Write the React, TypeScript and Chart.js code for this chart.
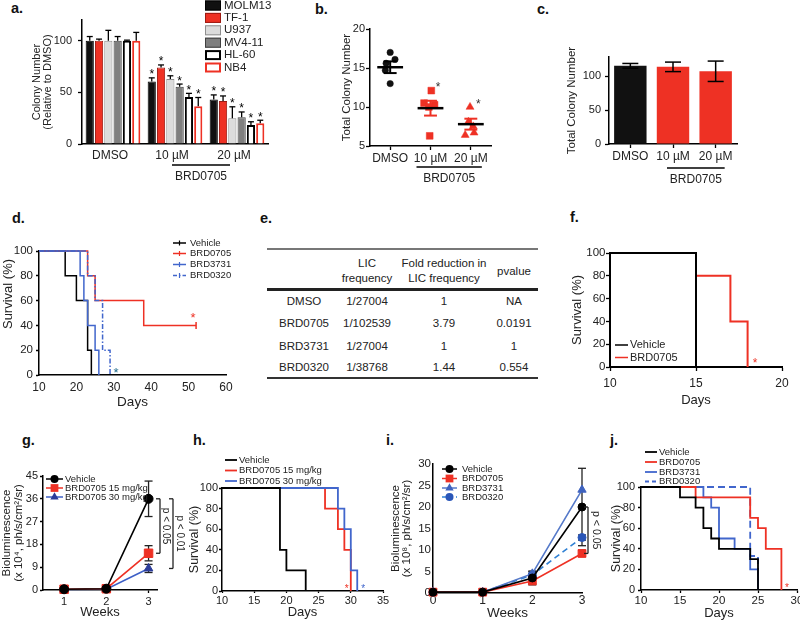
import React, { useEffect, useRef } from 'react';
import { Chart, registerables } from 'chart.js';

Chart.register(...registerables);

const FONT = "'Liberation Sans', Arial, Helvetica, sans-serif";
Chart.defaults.font.family = FONT;
Chart.defaults.color = '#222';

const INK = '#222';
const RED = '#ee3124';
const BLUE = '#4166cc';
const TEAL = '#1f6a8a';

/* ======================= DATA ======================= */
// a. colony formation of six AML lines (relative to DMSO)
const aGroups = ['DMSO', '10 µM', '20 µM'];
const aCellLines = ['MOLM13', 'TF-1', 'U937', 'MV4-11', 'HL-60', 'NB4'];
const aMOLM13 = [100, 60.5, 43];
const aTF1 = [100, 74, 41.5];
const aU937 = [100, 63, 25];
const aMV411 = [100, 55.5, 26];
const aHL60 = [100, 45.5, 18.5];
const aNB4 = [100, 36.5, 20];
const aErrMOLM13 = [4, 3.5, 4.5];
const aErrTF1 = [1.5, 2.5, 5];
const aErrU937 = [10, 3, 11];
const aErrMV411 = [4, 2.5, 5];
const aErrHL60 = [0.5, 3.5, 3];
const aErrNB4 = [8, 8.5, 3];
const aSignificant = [false, true, true];
const aYTicks = [0, 50, 100];
const treatmentName = 'BRD0705';

// b. total colony number, individual points
const bGroups = ['DMSO', '10 µM', '20 µM'];
const bDMSO = [17, 16.1, 15.6, 14.7, 13];
const b10uM = [12.1, 10.5, 10.3, 10.0, 6.3];
const b20uM = [10.0, 8.1, 7.5, 6.7, 6.4];
const bJitterDMSO = [0, 0.12, -0.1, -0.12, 0];
const bJitter10uM = [0.02, -0.16, 0.1, -0.04, -0.02];
const bJitter20uM = [-0.02, -0.06, 0.06, 0.08, -0.14];
const bMeans = [15.1, 9.85, 7.8];
const bSEM = [0.75, 0.95, 0.7];
const bSignificant = [false, true, true];
const bYTicks = [5, 10, 15, 20];

// c. total colony number
const cGroups = ['DMSO', '10 µM', '20 µM'];
const cValues = [115, 113.5, 107];
const cErrors = [3.5, 7, 15];
const cYTicks = [0, 50, 100];

// d. survival
const dSeries = ['Vehicle', 'BRD0705', 'BRD3731', 'BRD0320'];
const dXTicks = [10, 20, 30, 40, 50, 60];
const dYTicks = [0, 20, 40, 60, 80, 100];
const dVehicleDays = [10, 17, 20, 23, 24];
const dVehicleSurv = [100, 80, 60, 20, 0];
const dBRD0705Days = [10, 23, 25, 38, 52];
const dBRD0705Surv = [100, 80, 60, 40, 40];
const dBRD3731Days = [10, 21, 22, 23, 25, 26];
const dBRD3731Surv = [100, 80, 60, 40, 20, 0];
const dBRD0320Days = [10, 23, 25, 27, 29];
const dBRD0320Surv = [100, 80, 60, 20, 0];

// e. LIC frequency table
const eHeader = ['', 'LIC\nfrequency', 'Fold reduction in\nLIC frequency', 'pvalue'];
const eCompounds = ['DMSO', 'BRD0705', 'BRD3731', 'BRD0320'];
const eLICFrequency = ['1/27004', '1/102539', '1/27004', '1/38768'];
const eFoldReduction = ['1', '3.79', '1', '1.44'];
const ePValue = ['NA', '0.0191', '1', '0.554'];

// f. survival
const fSeries = ['Vehicle', 'BRD0705'];
const fXTicks = [10, 15, 20];
const fYTicks = [0, 20, 40, 60, 80, 100];
const fVehicleDays = [10, 15];
const fVehicleSurv = [100, 0];
const fBRD0705Days = [10, 15, 17, 18];
const fBRD0705Surv = [100, 80, 40, 0];

// g. bioluminescence
const gSeries = ['Vehicle', 'BRD0705 15 mg/kg', 'BRD0705 30 mg/kg'];
const gWeeks = [1, 2, 3];
const gYTicks = [0, 9, 18, 27, 36, 45];
const gVehicle = [0.3, 0.5, 36];
const gVehicleErr = [0.2, 0.3, 7];
const gBRD0705Low = [0.3, 0.5, 14.5];
const gBRD0705LowErr = [0.2, 0.3, 3];
const gBRD0705High = [0.2, 0.3, 8.5];
const gBRD0705HighErr = [0.1, 0.2, 1.6];
const gPLabels = ['p < 0.05', 'p < 0.01'];

// h. survival
const hSeries = ['Vehicle', 'BRD0705 15 mg/kg', 'BRD0705 30 mg/kg'];
const hXTicks = [10, 15, 20, 25, 30, 35];
const hYTicks = [0, 20, 40, 60, 80, 100];
const hVehicleDays = [10, 19, 20, 23];
const hVehicleSurv = [100, 40, 20, 0];
const hLowDays = [10, 26, 28, 29, 30];
const hLowSurv = [100, 80, 60, 40, 0];
const hHighDays = [10, 28, 29, 30, 31];
const hHighSurv = [100, 80, 60, 20, 0];

// i. bioluminescence
const iSeries = ['Vehicle', 'BRD0705', 'BRD3731', 'BRD0320'];
const iWeeks = [0, 1, 2, 3];
const iYTicks = [0, 5, 10, 15, 20, 25, 30];
const iVehicle = [0.2, 0.2, 3.5, 20];
const iVehicleErr = [0, 0, 1.6, 9];
const iBRD0705 = [0.2, 0.2, 2.8, 9.2];
const iBRD0705Err = [0, 0, 0.6, 0.7];
const iBRD3731 = [0.2, 0.2, 4.5, 24];
const iBRD3731Err = [0, 0, 0.5, 0];
const iBRD0320 = [0.2, 0.2, 4.2, 12.9];
const iBRD0320Err = [0, 0, 0.4, 0.6];
const iPLabel = 'p < 0.05';

// j. survival
const jSeries = ['Vehicle', 'BRD0705', 'BRD3731', 'BRD0320'];
const jXTicks = [10, 15, 20, 25, 30];
const jYTicks = [0, 20, 40, 60, 80, 100];
const jVehicleDays = [10, 15, 17, 18, 19, 20, 24, 25];
const jVehicleSurv = [100, 90, 80, 60, 50, 40, 30, 0];
const jBRD0705Days = [10, 17, 24, 25, 26, 28];
const jBRD0705Surv = [100, 90, 70, 60, 40, 0];
const jBRD3731Days = [10, 18, 19, 20, 22, 24, 25];
const jBRD3731Surv = [100, 90, 80, 50, 40, 20, 0];
const jBRD0320Days = [10, 24, 25];
const jBRD0320Surv = [100, 33, 0];

/* ======================= LAYOUT / STYLE ======================= */
type Box = { x0: number; y0: number; w: number; h: number; L: number; T: number; R: number; B: number };

const BOX: Record<string, Box> = {
  a: { x0: 0, y0: 0, w: 285, h: 195, L: 82, T: 20, R: 268, B: 144 },
  b: { x0: 290, y0: 15, w: 230, h: 180, L: 370, T: 29, R: 491, B: 146 },
  c: { x0: 555, y0: 40, w: 225, h: 155, L: 609, T: 57, R: 737, B: 144 },
  d: { x0: 0, y0: 230, w: 250, h: 180, L: 39, T: 251, R: 226, B: 375 },
  f: { x0: 560, y0: 235, w: 240, h: 175, L: 610, T: 253, R: 782, B: 367 },
  g: { x0: 0, y0: 455, w: 200, h: 165, L: 43, T: 476, R: 157, B: 590 },
  h: { x0: 185, y0: 450, w: 210, h: 170, L: 222, T: 488, R: 383, B: 591 },
  i: { x0: 385, y0: 450, w: 225, h: 170, L: 433, T: 464, R: 582, B: 593 },
  j: { x0: 600, y0: 440, w: 215, h: 180, L: 641, T: 487, R: 797, B: 590 },
};

const aStyles = [
  { fill: '#111111', stroke: '#000000', lw: 1 },
  { fill: RED, stroke: '#9c1a12', lw: 1 },
  { fill: '#dcdcdc', stroke: '#8f8f8f', lw: 1 },
  { fill: '#7f7f7f', stroke: '#3f3f3f', lw: 1 },
  { fill: '#ffffff', stroke: '#000000', lw: 2 },
  { fill: '#ffffff', stroke: RED, lw: 2 },
];

function fnt(size: number, bold = false) {
  return `${bold ? 'bold ' : ''}${size}px ${FONT}`;
}

function text(ctx: any, s: string, x: number, y: number, size: number, o: any = {}) {
  ctx.save();
  ctx.font = fnt(size, o.bold);
  ctx.fillStyle = o.color || INK;
  ctx.textAlign = o.align || 'left';
  ctx.textBaseline = o.base || 'middle';
  ctx.translate(x, y);
  if (o.rot) ctx.rotate(o.rot);
  ctx.fillText(s, 0, 0);
  ctx.restore();
}

function seg(ctx: any, x1: number, y1: number, x2: number, y2: number, color = '#000', width = 1.5, dash: number[] = []) {
  ctx.save();
  ctx.strokeStyle = color;
  ctx.lineWidth = width;
  ctx.setLineDash(dash);
  ctx.beginPath();
  ctx.moveTo(x1, y1);
  ctx.lineTo(x2, y2);
  ctx.stroke();
  ctx.restore();
}

function star(ctx: any, x: number, y: number, size: number, color = '#000') {
  text(ctx, '*', x, y + 0.58 * size, size, { color, align: 'center', base: 'alphabetic' });
}

function mark(ctx: any, style: string, x: number, y: number, r: number, color: string) {
  ctx.save();
  ctx.fillStyle = color;
  ctx.beginPath();
  if (style === 'rect') {
    const s = r * Math.SQRT1_2;
    ctx.rect(x - s, y - s, 2 * s, 2 * s);
  } else if (style === 'triangle') {
    for (let k = 0; k < 3; k++) {
      const a = (k * 2 * Math.PI) / 3;
      const px = x + Math.sin(a) * r;
      const py = y - Math.cos(a) * r;
      if (k) ctx.lineTo(px, py);
      else ctx.moveTo(px, py);
    }
    ctx.closePath();
  } else {
    ctx.arc(x, y, r, 0, Math.PI * 2);
  }
  ctx.fill();
  ctx.restore();
}

function yAxis(b: Box, o: any) {
  const ts = o.titleSize || 12;
  const lhf = o.titleLH || 1.2;
  return {
    type: 'linear',
    position: 'left',
    min: o.min,
    max: o.max,
    afterBuildTicks: (s: any) => {
      s.ticks = o.ticks.map((v: number) => ({ value: v }));
    },
    afterFit: (s: any) => {
      s.width = b.L - b.x0;
    },
    grid: {
      display: true,
      drawOnChartArea: false,
      drawTicks: (o.tickLen || 0) > 0,
      tickLength: o.tickLen || 0,
      tickWidth: 1.3,
      tickColor: '#000',
    },
    border: { display: true, color: '#000', width: o.lineW || 1.5 },
    ticks: { font: { size: o.size }, color: INK, padding: o.pad ?? 3 },
    title: o.title
      ? {
          display: true,
          text: o.title,
          color: INK,
          font: { size: ts, lineHeight: lhf },
          padding: { top: o.titleAt - b.x0 - (ts * lhf) / 2, bottom: 0 },
        }
      : { display: false },
  };
}

function xLinear(b: Box, o: any) {
  const ts = o.titleSize || 12;
  const ticks: any = { font: { size: o.size }, color: INK, padding: o.pad ?? 3, autoSkip: false, maxRotation: 0 };
  if (o.labels) ticks.callback = (_v: any, i: number) => o.labels[i];
  return {
    type: 'linear',
    position: 'bottom',
    min: o.min,
    max: o.max,
    afterBuildTicks: (s: any) => {
      s.ticks = o.ticks.map((v: number) => ({ value: v }));
    },
    afterFit: (s: any) => {
      s.height = b.y0 + b.h - b.B;
    },
    grid: {
      display: true,
      drawOnChartArea: false,
      drawTicks: (o.tickLen || 0) > 0,
      tickLength: o.tickLen || 0,
      tickWidth: 1.3,
      tickColor: '#000',
    },
    border: { display: true, color: '#000', width: o.lineW || 1.5 },
    ticks,
    title: o.title
      ? {
          display: true,
          text: o.title,
          color: INK,
          font: { size: ts, lineHeight: 1.2 },
          padding: { top: 0, bottom: b.y0 + b.h - o.titleAt - (ts * 1.2) / 2 },
        }
      : { display: false },
  };
}

function xCategory(b: Box, o: any) {
  return {
    type: 'category',
    position: 'bottom',
    offset: true,
    afterFit: (s: any) => {
      s.height = b.y0 + b.h - b.B;
    },
    grid: {
      display: true,
      drawOnChartArea: false,
      offset: false,
      drawTicks: (o.tickLen || 0) > 0,
      tickLength: o.tickLen || 0,
      tickWidth: 1.3,
      tickColor: '#000',
    },
    border: { display: true, color: '#000', width: o.lineW || 1.5 },
    ticks: {
      font: { size: o.size },
      color: INK,
      padding: o.pad ?? 3,
      autoSkip: false,
      maxRotation: 0,
      labelOffset: o.labelOffset || 0,
    },
  };
}

function config(b: Box, type: string, data: any, scales: any, hooks: any = {}) {
  return {
    type,
    data,
    options: {
      responsive: false,
      maintainAspectRatio: false,
      animation: false,
      events: [],
      layout: { padding: { left: 0, top: b.T - b.y0, right: b.x0 + b.w - b.R, bottom: 0 } },
      plugins: { legend: { display: false }, tooltip: { enabled: false } },
      scales,
    },
    plugins: [
      {
        id: 'panelExtras',
        beforeDatasetsDraw(chart: any) {
          if (hooks.pre) {
            chart.ctx.save();
            hooks.pre(chart.ctx, chart);
            chart.ctx.restore();
          }
        },
        afterDraw(chart: any) {
          if (hooks.post) {
            chart.ctx.save();
            hooks.post(chart.ctx, chart);
            chart.ctx.restore();
          }
        },
      },
    ],
  };
}

function survival(days: number[], surv: number[], color: string, width: number, dash: number[] = [], censorLast = false) {
  return {
    data: days.map((d, i) => ({ x: d, y: surv[i] })),
    borderColor: color,
    backgroundColor: color,
    borderWidth: width,
    borderDash: dash,
    stepped: 'before',
    fill: false,
    pointRadius: days.map((_, i) => (censorLast && i === days.length - 1 ? 3.5 : 0)),
    pointStyle: 'line',
    pointRotation: 90,
    pointBorderColor: color,
    pointBorderWidth: width,
    clip: false,
  };
}

function markerLine(xs: number[], ys: number[], line: string, markColor: string, style: string, r: number, dash: number[] = []) {
  return {
    data: xs.map((x, i) => ({ x, y: ys[i] })),
    borderColor: line,
    borderWidth: 1.6,
    borderDash: dash,
    tension: 0,
    fill: false,
    pointStyle: style,
    pointRadius: r,
    pointBackgroundColor: markColor,
    pointBorderColor: markColor,
    pointBorderWidth: 1,
    clip: false,
  };
}

function errorBars(ctx: any, chart: any, ds: number, values: number[], errs: number[], half: number, color = '#222', width = 1.3) {
  const meta = chart.getDatasetMeta(ds);
  const ys = chart.scales.y;
  values.forEach((v, j) => {
    const e = errs[j];
    if (!e) return;
    const x = meta.data[j].x;
    const y1 = ys.getPixelForValue(v + e);
    const y2 = ys.getPixelForValue(v - e);
    seg(ctx, x, y1, x, y2, color, width);
    seg(ctx, x - half, y1, x + half, y1, color, width);
    seg(ctx, x - half, y2, x + half, y2, color, width);
  });
}

function bracket(ctx: any, x: number, yTop: number, yBot: number, label: string, size: number, gap: number) {
  seg(ctx, x, yTop, x, yBot, '#222', 1.3);
  seg(ctx, x - 4, yTop, x, yTop, '#222', 1.3);
  seg(ctx, x - 4, yBot, x, yBot, '#222', 1.3);
  text(ctx, label, x + gap, (yTop + yBot) / 2, size, { align: 'center', rot: Math.PI / 2 });
}

function legend(ctx: any, b: Box, items: any[], o: any) {
  items.forEach((it, k) => {
    const y = o.rows[k] - b.y0;
    const x1 = o.x1 - b.x0;
    const x2 = o.x2 - b.x0;
    seg(ctx, x1, y, x2, y, it.color, it.width || 1.5, it.dash || []);
    if (it.censor) seg(ctx, (x1 + x2) / 2, y - 2.5, (x1 + x2) / 2, y + 2.5, it.color, 1.2);
    if (it.marker) mark(ctx, it.marker, (x1 + x2) / 2, y, it.r || 4, it.mcolor || it.color);
    text(ctx, it.label, o.tx - b.x0, y, o.size);
  });
}

/* ======================= PANELS ======================= */
const aSeries = [aMOLM13, aTF1, aU937, aMV411, aHL60, aNB4];
const aErrors = [aErrMOLM13, aErrTF1, aErrU937, aErrMV411, aErrHL60, aErrNB4];

function makeA(b: Box) {
  return config(
    b,
    'bar',
    {
      labels: aGroups,
      datasets: aCellLines.map((name, i) => ({
        label: name,
        data: aSeries[i],
        backgroundColor: aStyles[i].fill,
        borderColor: aStyles[i].stroke,
        borderWidth: aStyles[i].lw,
        barPercentage: 0.88,
        categoryPercentage: 0.9,
      })),
    },
    {
      x: xCategory(b, { size: 12, pad: 4, labelOffset: -3 }),
      y: yAxis(b, {
        min: 0, max: 120, ticks: aYTicks, size: 11, tickLen: 4, pad: 6,
        title: ['Colony Number', '(Relative to DMSO)'], titleSize: 11, titleLH: 1.0, titleAt: 37,
      }),
    },
    {
      post: (ctx: any, chart: any) => {
        const xs = chart.scales.x;
        const ys = chart.scales.y;
        aSeries.forEach((vals, i) => {
          const meta = chart.getDatasetMeta(i);
          vals.forEach((v, j) => {
            const x = meta.data[j].x;
            const yv = ys.getPixelForValue(v);
            const ye = ys.getPixelForValue(v + aErrors[i][j]);
            seg(ctx, x, yv, x, ye, '#000', 1.3);
            seg(ctx, x - 3, ye, x + 3, ye, '#000', 1.3);
            if (aSignificant[j]) star(ctx, x, ye - 6.5, 12);
          });
        });
        const x1 = xs.getPixelForValue(1) - 3;
        const x2 = xs.getPixelForValue(2) - 7;
        const yl = chart.chartArea.bottom + 21;
        seg(ctx, x1, yl, x2, yl, '#000', 1.5);
        text(ctx, treatmentName, (x1 + x2) / 2, yl + 12, 12, { align: 'center' });
        aCellLines.forEach((name, i) => {
          const st = aStyles[i];
          const cy = 5.5 + i * 12.4 - b.y0;
          const bx = 205 - b.x0;
          ctx.fillStyle = st.fill;
          ctx.fillRect(bx, cy - 5, 16, 10);
          ctx.strokeStyle = st.stroke;
          ctx.lineWidth = st.lw;
          ctx.strokeRect(bx + st.lw / 2, cy - 5 + st.lw / 2, 16 - st.lw, 10 - st.lw);
          text(ctx, name, 224 - b.x0, cy, 11.5);
        });
      },
    }
  );
}

const bSeries = [bDMSO, b10uM, b20uM];
const bJitter = [bJitterDMSO, bJitter10uM, bJitter20uM];
const bMarkers = ['circle', 'rect', 'triangle'];
const bRadius = [3.2, 4.8, 4.6];
const bColors = ['#111', RED, RED];

function makeB(b: Box) {
  return config(
    b,
    'scatter',
    {
      datasets: bSeries.map((vals, i) => ({
        label: bGroups[i],
        data: vals.map((v, k) => ({ x: i + 1 + bJitter[i][k], y: v })),
        pointStyle: bMarkers[i],
        pointRadius: bRadius[i],
        pointBackgroundColor: bColors[i],
        pointBorderColor: bColors[i],
        pointBorderWidth: 0.5,
        clip: false,
      })),
    },
    {
      x: xLinear(b, { min: 0.5, max: 3.5, ticks: [1, 2, 3], labels: bGroups, size: 12, tickLen: 4, pad: 1 }),
      y: yAxis(b, {
        min: 5, max: 20, ticks: bYTicks, size: 11, tickLen: 4, pad: 1,
        title: 'Total Colony Number', titleSize: 11.5, titleAt: 347,
      }),
    },
    {
      post: (ctx: any, chart: any) => {
        const xs = chart.scales.x;
        const ys = chart.scales.y;
        const unit = xs.getPixelForValue(2) - xs.getPixelForValue(1);
        bMeans.forEach((m, i) => {
          const cx = xs.getPixelForValue(i + 1);
          const col = i === 0 ? '#000' : RED;
          const yt = ys.getPixelForValue(m + bSEM[i]);
          const yb = ys.getPixelForValue(m - bSEM[i]);
          const ym = ys.getPixelForValue(m);
          seg(ctx, cx, yt, cx, yb, col, 2);
          seg(ctx, cx - 0.16 * unit, yt, cx + 0.16 * unit, yt, col, 2);
          seg(ctx, cx - 0.16 * unit, yb, cx + 0.16 * unit, yb, col, 2);
          seg(ctx, cx - 0.32 * unit, ym, cx + 0.32 * unit, ym, '#000', 2.5);
          if (bSignificant[i]) star(ctx, cx + 7.5, ys.getPixelForValue(Math.max(...bSeries[i])) - 6.2, 12, '#333');
        });
        const x1 = xs.getPixelForValue(2) - 14;
        const x2 = xs.getPixelForValue(3) + 11;
        const yl = chart.chartArea.bottom + 21;
        seg(ctx, x1, yl, x2, yl, '#000', 1.5);
        text(ctx, treatmentName, (x1 + x2) / 2, yl + 11.5, 12, { align: 'center' });
      },
    }
  );
}

function makeC(b: Box) {
  return config(
    b,
    'bar',
    {
      labels: cGroups,
      datasets: [
        {
          data: cValues,
          backgroundColor: ['#111111', RED, RED],
          borderWidth: 0,
          barPercentage: 0.76,
          categoryPercentage: 1,
        },
      ],
    },
    {
      x: xCategory(b, { size: 12, pad: 1.5, tickLen: 4 }),
      y: yAxis(b, {
        min: 0, max: 128, ticks: cYTicks, size: 11, tickLen: 4, pad: 4,
        title: 'Total Colony Number', titleSize: 11.5, titleAt: 572,
      }),
    },
    {
      post: (ctx: any, chart: any) => {
        errorBars(ctx, chart, 0, cValues, cErrors, 8, '#000', 1.5);
        const xs = chart.scales.x;
        const x1 = xs.getPixelForValue(1) - 6;
        const x2 = xs.getPixelForValue(2) + 9;
        const yl = chart.chartArea.bottom + 24;
        seg(ctx, x1, yl, x2, yl, '#000', 1.5);
        text(ctx, treatmentName, (x1 + x2) / 2, yl + 11.5, 12, { align: 'center' });
      },
    }
  );
}

function makeD(b: Box) {
  return config(
    b,
    'line',
    {
      datasets: [
        survival(dBRD3731Days, dBRD3731Surv, BLUE, 1.5),
        survival(dBRD0320Days, dBRD0320Surv, BLUE, 1.5, [5, 2, 1.5, 2]),
        survival(dBRD0705Days, dBRD0705Surv, RED, 1.5, [], true),
        survival(dVehicleDays, dVehicleSurv, '#000', 1.5),
      ],
    },
    {
      x: xLinear(b, { min: 10, max: 60, ticks: dXTicks, size: 12, tickLen: 0, pad: 5, title: 'Days', titleSize: 13.5, titleAt: 402 }),
      y: yAxis(b, { min: 0, max: 100, ticks: dYTicks, size: 11.5, tickLen: 3, pad: 3 }),
    },
    {
      post: (ctx: any, chart: any) => {
        const xs = chart.scales.x;
        const ys = chart.scales.y;
        // y-axis title (sits above the axis middle in the original)
        text(ctx, 'Survival (%)', 8 - b.x0, 294 - b.y0, 13, { align: 'center', rot: -Math.PI / 2 });
        const n1 = dBRD0705Days.length - 1;
        star(ctx, xs.getPixelForValue(dBRD0705Days[n1]) - 3, ys.getPixelForValue(dBRD0705Surv[n1]) - 11, 13, RED);
        const n2 = dBRD0320Days.length - 1;
        star(ctx, xs.getPixelForValue(dBRD0320Days[n2]) + 6, ys.getPixelForValue(dBRD0320Surv[n2]) - 6, 13, TEAL);
        legend(
          ctx,
          b,
          [
            { label: dSeries[0], color: '#000', censor: true },
            { label: dSeries[1], color: RED, censor: true },
            { label: dSeries[2], color: BLUE, censor: true },
            { label: dSeries[3], color: BLUE, dash: [4, 2, 1.5, 2], censor: true },
          ],
          { x1: 173, x2: 186, tx: 190, rows: [243, 253.5, 264.5, 275.5], size: 9.5 }
        );
      },
    }
  );
}

function makeF(b: Box) {
  return config(
    b,
    'line',
    {
      datasets: [survival(fVehicleDays, fVehicleSurv, '#000', 2), survival(fBRD0705Days, fBRD0705Surv, RED, 2)],
    },
    {
      x: xLinear(b, { min: 10, max: 20, ticks: fXTicks, size: 12, tickLen: 4, pad: 5, title: 'Days', titleSize: 13, titleAt: 400, lineW: 2 }),
      y: yAxis(b, { min: 0, max: 100, ticks: fYTicks, size: 11.5, tickLen: 4, pad: 0.5, title: 'Survival (%)', titleSize: 13, titleAt: 577, lineW: 2 }),
    },
    {
      post: (ctx: any, chart: any) => {
        const xs = chart.scales.x;
        const ys = chart.scales.y;
        const n = fBRD0705Days.length - 1;
        star(ctx, xs.getPixelForValue(fBRD0705Days[n]) + 7.5, ys.getPixelForValue(fBRD0705Surv[n]) - 7, 12, RED);
        legend(
          ctx,
          b,
          [
            { label: fSeries[0], color: '#000' },
            { label: fSeries[1], color: RED },
          ],
          { x1: 615, x2: 628, tx: 630, rows: [345, 357.5], size: 11 }
        );
      },
    }
  );
}

function makeG(b: Box) {
  return config(
    b,
    'line',
    {
      datasets: [
        markerLine(gWeeks, gVehicle, '#000', '#000', 'circle', 4.5),
        markerLine(gWeeks, gBRD0705Low, RED, RED, 'rect', 6),
        markerLine(gWeeks, gBRD0705High, '#3d5fc6', '#2b3c99', 'triangle', 5),
      ],
    },
    {
      x: xLinear(b, { min: 0.5, max: 3.2, ticks: gWeeks, size: 11, tickLen: 3, pad: 2, title: 'Weeks', titleSize: 13, titleAt: 612.7 }),
      y: yAxis(b, {
        min: 0, max: 45, ticks: gYTicks, size: 11, tickLen: 3, pad: 2,
        title: ['Bioluminescence', '(x 10⁴, ph/s/cm²/sr)'], titleSize: 11.5, titleLH: 1.05, titleAt: 7,
      }),
    },
    {
      pre: (ctx: any, chart: any) => {
        errorBars(ctx, chart, 0, gVehicle, gVehicleErr, 4);
        errorBars(ctx, chart, 1, gBRD0705Low, gBRD0705LowErr, 4);
        errorBars(ctx, chart, 2, gBRD0705High, gBRD0705HighErr, 4);
      },
      post: (ctx: any, chart: any) => {
        const ys = chart.scales.y;
        const r = chart.chartArea.right;
        const top = ys.getPixelForValue(gVehicle[2]);
        bracket(ctx, r + 3, top, ys.getPixelForValue(gBRD0705Low[2]), gPLabels[0], 10, 5.5);
        bracket(ctx, r + 16, top, ys.getPixelForValue(gBRD0705High[2]), gPLabels[1], 10, 7);
        legend(
          ctx,
          b,
          [
            { label: gSeries[0], color: '#000', marker: 'circle', r: 4 },
            { label: gSeries[1], color: RED, marker: 'rect', r: 5.5 },
            { label: gSeries[2], color: '#3d5fc6', marker: 'triangle', r: 4.8, mcolor: '#2b3c99' },
          ],
          { x1: 46, x2: 63, tx: 65, rows: [479, 488, 497], size: 9.5 }
        );
      },
    }
  );
}

function makeH(b: Box) {
  return config(
    b,
    'line',
    {
      datasets: [
        survival(hVehicleDays, hVehicleSurv, '#000', 1.8),
        survival(hHighDays, hHighSurv, BLUE, 1.8),
        survival(hLowDays, hLowSurv, RED, 1.8),
      ],
    },
    {
      x: xLinear(b, { min: 10, max: 35, ticks: hXTicks, size: 11, tickLen: 2, pad: 1, title: 'Days', titleSize: 13, titleAt: 612.7 }),
      y: yAxis(b, { min: 0, max: 100, ticks: hYTicks, size: 11, tickLen: 3, pad: 1, title: 'Survival (%)', titleSize: 12.5, titleAt: 195 }),
    },
    {
      post: (ctx: any, chart: any) => {
        const xs = chart.scales.x;
        const ys = chart.scales.y;
        const nl = hLowDays.length - 1;
        const nh = hHighDays.length - 1;
        star(ctx, xs.getPixelForValue(hLowDays[nl]) - 4, ys.getPixelForValue(hLowSurv[nl]) - 5, 10, RED);
        star(ctx, xs.getPixelForValue(hHighDays[nh]) + 6, ys.getPixelForValue(hHighSurv[nh]) - 5, 10, BLUE);
        legend(
          ctx,
          b,
          [
            { label: hSeries[0], color: '#000', width: 1.8 },
            { label: hSeries[1], color: RED, width: 1.8 },
            { label: hSeries[2], color: BLUE, width: 1.8 },
          ],
          { x1: 225, x2: 237, tx: 239, rows: [460, 470.5, 481], size: 9.5 }
        );
      },
    }
  );
}

function makeI(b: Box) {
  return config(
    b,
    'line',
    {
      datasets: [
        markerLine(iWeeks, iVehicle, '#000', '#000', 'circle', 4),
        markerLine(iWeeks, iBRD0705, RED, RED, 'rect', 5.5),
        markerLine(iWeeks, iBRD3731, '#5579c9', '#3f63bf', 'triangle', 4.8),
        markerLine(iWeeks, iBRD0320, '#2f80d4', '#2a56b8', 'circle', 4, [6, 4]),
      ],
    },
    {
      x: xLinear(b, { min: 0, max: 3, ticks: iWeeks, size: 12, tickLen: 0, pad: 0, title: 'Weeks', titleSize: 13.5, titleAt: 613 }),
      y: yAxis(b, {
        min: 0, max: 30, ticks: iYTicks, size: 11.5, tickLen: 0, pad: 2,
        title: ['Bioluminescence', '(x 10⁸, ph/s/cm²/sr)'], titleSize: 11.5, titleLH: 0.95, titleAt: 396,
      }),
    },
    {
      pre: (ctx: any, chart: any) => {
        errorBars(ctx, chart, 0, iVehicle, iVehicleErr, 4);
        errorBars(ctx, chart, 1, iBRD0705, iBRD0705Err, 4);
        errorBars(ctx, chart, 2, iBRD3731, iBRD3731Err, 4);
        errorBars(ctx, chart, 3, iBRD0320, iBRD0320Err, 4);
      },
      post: (ctx: any, chart: any) => {
        const ys = chart.scales.y;
        const r = chart.chartArea.right;
        bracket(ctx, r + 6, ys.getPixelForValue(iVehicle[3]), ys.getPixelForValue(iBRD0705[3]), iPLabel, 10.5, 7.5);
        legend(
          ctx,
          b,
          [
            { label: iSeries[0], color: '#000', marker: 'circle', r: 4 },
            { label: iSeries[1], color: RED, marker: 'rect', r: 5.5 },
            { label: iSeries[2], color: '#5579c9', marker: 'triangle', r: 4.8, mcolor: '#3f63bf' },
            { label: iSeries[3], color: '#2f80d4', marker: 'circle', r: 4, mcolor: '#2a56b8', dash: [4, 3] },
          ],
          { x1: 442, x2: 457, tx: 462, rows: [469, 478.5, 488, 497], size: 9.5 }
        );
      },
    }
  );
}

function makeJ(b: Box) {
  return config(
    b,
    'line',
    {
      datasets: [
        survival(jVehicleDays, jVehicleSurv, '#000', 1.8),
        survival(jBRD0705Days, jBRD0705Surv, RED, 1.8),
        survival(jBRD3731Days, jBRD3731Surv, BLUE, 1.8),
        survival(jBRD0320Days, jBRD0320Surv, BLUE, 1.8, [7, 4]),
      ],
    },
    {
      x: xLinear(b, { min: 10, max: 30, ticks: jXTicks, size: 11.5, tickLen: 3, pad: 0.5, title: 'Days', titleSize: 13, titleAt: 613 }),
      y: yAxis(b, { min: 0, max: 100, ticks: jYTicks, size: 11, tickLen: 3, pad: 3, title: 'Survival (%)', titleSize: 12.5, titleAt: 617 }),
    },
    {
      post: (ctx: any, chart: any) => {
        const xs = chart.scales.x;
        const ys = chart.scales.y;
        const n = jBRD0705Days.length - 1;
        star(ctx, xs.getPixelForValue(jBRD0705Days[n]) + 5.5, ys.getPixelForValue(jBRD0705Surv[n]) - 5, 10, RED);
        legend(
          ctx,
          b,
          [
            { label: jSeries[0], color: '#000', width: 1.8 },
            { label: jSeries[1], color: RED, width: 1.8 },
            { label: jSeries[2], color: BLUE, width: 1.8 },
            { label: jSeries[3], color: BLUE, width: 1.8, dash: [4, 3] },
          ],
          { x1: 645, x2: 657, tx: 659, rows: [452, 462, 472, 481.5], size: 9.5 }
        );
      },
    }
  );
}

/* ======================= REACT ======================= */
function Panel({ b, make }: { b: Box; make: (b: Box) => any }) {
  const ref = useRef<HTMLCanvasElement | null>(null);
  useEffect(() => {
    if (!ref.current) return;
    const chart = new Chart(ref.current, make(b) as any);
    return () => chart.destroy();
  }, [b, make]);
  return (
    <canvas
      ref={ref}
      width={b.w}
      height={b.h}
      style={{ position: 'absolute', left: b.x0, top: b.y0, width: b.w, height: b.h }}
    />
  );
}

const panelLetters: [string, number, number][] = [
  ['a.', 11, 13],
  ['b.', 315, 14],
  ['c.', 537, 14],
  ['d.', 12, 223],
  ['e.', 260, 223],
  ['f.', 570, 222],
  ['g.', 22, 445],
  ['h.', 193, 445],
  ['i.', 386, 445],
  ['j.', 610, 445],
];

function LicTable() {
  const cols = [304, 367, 444, 514];
  const rows = [301, 323, 346, 367];
  const cell = (key: string, s: string, x: number, y: number) => (
    <div
      key={key}
      style={{
        position: 'absolute',
        left: x,
        top: y,
        transform: 'translate(-50%, -50%)',
        whiteSpace: 'pre',
        textAlign: 'center',
        fontSize: 11.5,
        lineHeight: '15px',
        color: INK,
      }}
    >
      {s}
    </div>
  );
  const rule = (key: string, y: number, h: number, c: string) => (
    <div key={key} style={{ position: 'absolute', left: 267, top: y, width: 271, height: h, background: c }} />
  );
  const body = eCompounds.map((c, r) => [c, eLICFrequency[r], eFoldReduction[r], ePValue[r]]);
  return (
    <>
      {rule('t', 248, 1.5, '#777')}
      {rule('m', 288, 2.5, '#222')}
      {rule('b', 377, 2, '#333')}
      {eHeader.map((h, k) => (h ? cell('h' + k, h, cols[k], 270.5) : null))}
      {body.map((row, r) => row.map((s, k) => cell(`r${r}c${k}`, s, cols[k], rows[r])))}
    </>
  );
}

export default function App() {
  return (
    <div
      style={{
        position: 'absolute',
        left: 0,
        top: 0,
        width: 800,
        height: 620,
        overflow: 'hidden',
        background: '#fff',
        fontFamily: FONT,
        color: INK,
      }}
    >
      {panelLetters.map(([t, x, base]) => (
        <div
          key={t}
          style={{ position: 'absolute', left: x, top: base - 12.3, fontSize: 14.5, lineHeight: '14.5px', fontWeight: 'bold', color: '#111' }}
        >
          {t}
        </div>
      ))}
      <LicTable />
      <Panel b={BOX.a} make={makeA} />
      <Panel b={BOX.b} make={makeB} />
      <Panel b={BOX.c} make={makeC} />
      <Panel b={BOX.d} make={makeD} />
      <Panel b={BOX.f} make={makeF} />
      <Panel b={BOX.g} make={makeG} />
      <Panel b={BOX.h} make={makeH} />
      <Panel b={BOX.i} make={makeI} />
      <Panel b={BOX.j} make={makeJ} />
    </div>
  );
}
